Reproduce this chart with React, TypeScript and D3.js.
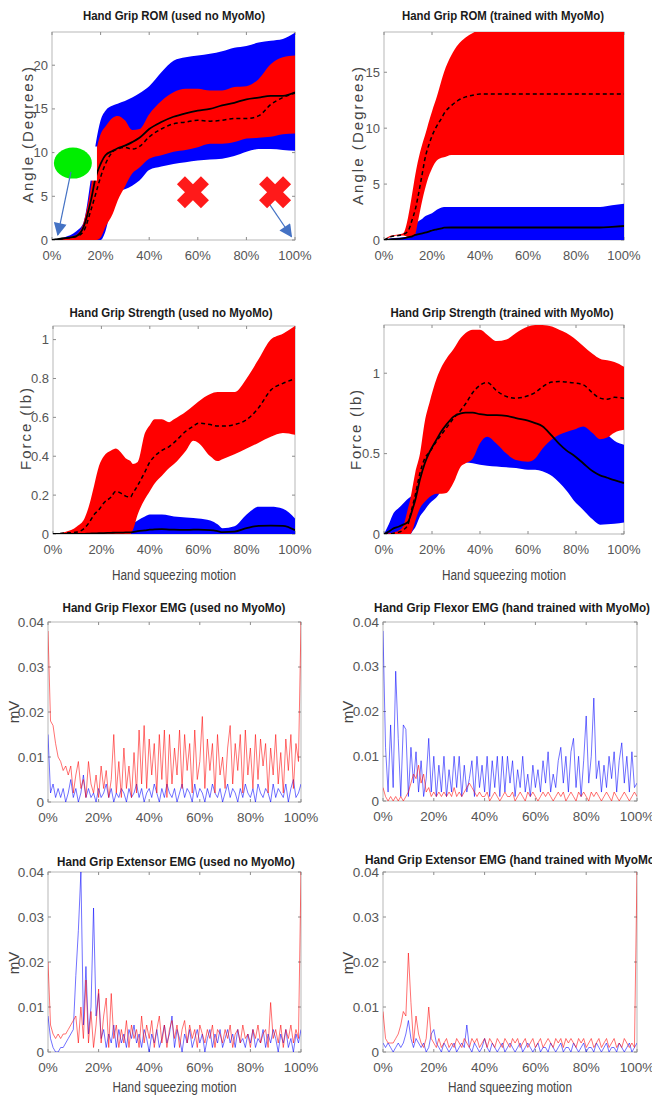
import React from 'react'
import * as d3 from 'd3'

// ---- ROM, used no MyoMo (degrees) ----
const romNoX = [0, 5, 10, 13, 16, 18, 20, 22, 25, 27, 30, 33, 36, 40, 45, 50, 55, 60, 65, 70, 75, 80, 85, 90, 95, 100]
const romNoBlueHi = [0, 0.3, 1.0, 2.0, 7.0, 11.0, 13.7, 14.8, 15.4, 15.6, 15.9, 16.3, 16.8, 17.6, 19.2, 20.5, 20.9, 21.1, 21.3, 21.6, 22.0, 22.2, 22.6, 22.8, 23.0, 23.7]
const romNoBlueLo = [0, 0, 0, 0, 0, 0, 0, 1.0, 4.5, 5.5, 5.8, 6.2, 6.8, 8.0, 8.4, 8.7, 8.9, 9.1, 9.2, 9.3, 9.6, 10.1, 10.4, 10.4, 10.3, 10.2]
const romNoRedHi = [0, 0.2, 0.6, 2.0, 6.0, 9.9, 12.1, 13.0, 14.0, 14.2, 13.7, 12.6, 12.7, 14.4, 15.9, 16.9, 17.3, 17.3, 17.1, 17.1, 17.5, 17.6, 18.4, 20.1, 20.9, 21.1]
const romNoRedLo = [0, 0, 0, 0, 0, 0, 0.3, 1.5, 3.0, 4.5, 6.1, 7.6, 8.3, 9.3, 9.7, 10.1, 10.3, 10.6, 11.0, 11.0, 11.2, 11.6, 11.7, 11.8, 12.1, 12.2]
const romNoSolid = [0, 0.2, 0.45, 1.5, 4.5, 7.2, 8.7, 9.7, 10.2, 10.5, 10.8, 11.2, 11.7, 12.7, 13.5, 14.1, 14.5, 14.8, 15.0, 15.4, 15.7, 16.1, 16.3, 16.5, 16.5, 16.9]
const romNoDashed = [0, 0.2, 0.4, 1.0, 3.4, 5.3, 7.2, 8.7, 10.1, 10.4, 10.6, 10.4, 10.7, 11.8, 12.7, 13.3, 13.5, 13.7, 13.6, 13.7, 13.9, 13.9, 14.2, 15.5, 16.3, 16.8]

// ---- ROM, trained with MyoMo ----
const romTrX = [0, 3, 6, 8, 10, 12, 13, 14, 16, 17, 19, 20, 22, 24, 25, 28, 31, 34, 37, 40, 50, 60, 70, 80, 90, 95, 100]
const romTrRedHi = [0, 0.4, 0.5, 0.6, 2.0, 4.5, 5.8, 6.9, 8.6, 9.3, 10.8, 11.5, 12.8, 14.3, 15.0, 16.5, 17.5, 18.1, 18.5, 18.9, 19.5, 19.5, 19.5, 19.5, 19.5, 19.5, 19.5]
const romTrRedLo = [0, 0.3, 0.4, 0.4, 0.3, 0.3, 0.5, 1.5, 3.6, 4.5, 5.9, 6.4, 7.1, 7.35, 7.4, 7.6, 7.6, 7.6, 7.6, 7.6, 7.6, 7.6, 7.6, 7.6, 7.6, 7.6, 7.6]
const romTrBlueHi = [0, 0.15, 0.2, 0.25, 0.3, 0.9, 1.3, 1.6, 1.9, 2.1, 2.3, 2.4, 2.7, 2.9, 2.95, 2.95, 2.95, 2.95, 2.95, 2.95, 2.95, 2.95, 2.95, 2.95, 2.95, 3.1, 3.25]
const romTrBlueLo = [0, 0, 0, 0, 0, 0, 0, 0, 0, 0, 0, 0, 0, 0, 0, 0, 0, 0, 0, 0, 0, 0, 0, 0, 0, 0, 0]
const romTrSolid = [0, 0.05, 0.1, 0.15, 0.25, 0.35, 0.45, 0.5, 0.6, 0.65, 0.78, 0.85, 0.95, 1.05, 1.1, 1.12, 1.12, 1.12, 1.12, 1.12, 1.12, 1.12, 1.12, 1.12, 1.12, 1.18, 1.25]
const romTrDashed = [0, 0.3, 0.4, 0.5, 0.8, 2.0, 2.7, 3.7, 6.0, 7.2, 8.7, 9.3, 10.2, 10.9, 11.3, 12.0, 12.5, 12.8, 12.95, 13.05, 13.05, 13.05, 13.05, 13.05, 13.05, 13.05, 13.05]

// ---- Strength, used no MyoMo (lb) ----
const strNoX = [0, 5, 10, 13, 15, 17, 19, 21, 24, 26, 28, 30, 32, 33, 35, 38, 40, 42, 45, 48, 50, 55, 58, 60, 65, 68, 70, 75, 80, 85, 90, 95, 100]
const strNoRedHi = [0, 0.01, 0.04, 0.08, 0.15, 0.25, 0.35, 0.40, 0.43, 0.44, 0.42, 0.39, 0.375, 0.36, 0.37, 0.52, 0.56, 0.59, 0.59, 0.575, 0.59, 0.63, 0.66, 0.68, 0.72, 0.73, 0.73, 0.73, 0.80, 0.90, 1.0, 1.03, 1.07]
const strNoRedLo = [0, 0, 0, 0, 0, 0, 0, 0, 0, 0, 0, 0, 0, 0.02, 0.1, 0.18, 0.22, 0.26, 0.30, 0.34, 0.36, 0.43, 0.48, 0.47, 0.40, 0.375, 0.385, 0.41, 0.44, 0.47, 0.50, 0.52, 0.51]
const strNoBlueHi = [0, 0, 0, 0, 0, 0, 0, 0, 0, 0, 0, 0, 0, 0.05, 0.07, 0.09, 0.10, 0.10, 0.10, 0.095, 0.09, 0.085, 0.082, 0.08, 0.07, 0.05, 0.03, 0.04, 0.10, 0.14, 0.14, 0.13, 0.08]
const strNoBlueLo = [0, 0, 0, 0, 0, 0, 0, 0, 0, 0, 0, 0, 0, 0, 0, 0, 0, 0, 0, 0, 0, 0, 0, 0, 0, 0, 0, 0, 0, 0, 0, 0, 0]
const strNoSolid = [0, 0, 0, 0.001, 0.002, 0.003, 0.004, 0.005, 0.006, 0.007, 0.007, 0.008, 0.008, 0.01, 0.015, 0.019, 0.022, 0.024, 0.025, 0.023, 0.022, 0.021, 0.022, 0.022, 0.02, 0.015, 0.01, 0.012, 0.03, 0.042, 0.043, 0.042, 0.02]
const strNoDashed = [0, 0.005, 0.01, 0.03, 0.06, 0.10, 0.125, 0.16, 0.19, 0.22, 0.21, 0.195, 0.19, 0.21, 0.25, 0.32, 0.37, 0.40, 0.43, 0.45, 0.47, 0.53, 0.555, 0.57, 0.563, 0.555, 0.555, 0.563, 0.588, 0.65, 0.74, 0.775, 0.798]

// ---- Strength, trained with MyoMo ----
const strTrX = [0, 2, 4, 6, 8, 10, 11, 12, 13, 15, 17, 19, 22, 24, 26, 29, 32, 34, 37, 40, 43, 47, 51, 55, 60, 63, 66, 70, 73, 76, 79, 83, 87, 90, 93, 96, 100]
const strTrRedHi = [0, 0.005, 0.01, 0.02, 0.05, 0.16, 0.22, 0.30, 0.38, 0.50, 0.70, 0.82, 0.97, 1.04, 1.09, 1.15, 1.22, 1.25, 1.27, 1.27, 1.24, 1.20, 1.21, 1.25, 1.29, 1.30, 1.30, 1.29, 1.27, 1.25, 1.22, 1.17, 1.12, 1.09, 1.08, 1.07, 1.04]
const strTrRedLo = [0, 0, 0, 0, 0, 0, 0, 0.03, 0.08, 0.16, 0.20, 0.23, 0.25, 0.25, 0.255, 0.32, 0.42, 0.44, 0.47, 0.565, 0.605, 0.56, 0.50, 0.46, 0.45, 0.47, 0.53, 0.59, 0.617, 0.635, 0.648, 0.669, 0.627, 0.59, 0.60, 0.63, 0.648]
const strTrBlueHi = [0, 0.06, 0.13, 0.16, 0.19, 0.22, 0.23, 0.25, 0.28, 0.32, 0.36, 0.40, 0.45, 0.50, 0.55, 0.60, 0.65, 0.68, 0.70, 0.72, 0.72, 0.72, 0.72, 0.72, 0.72, 0.72, 0.72, 0.72, 0.72, 0.72, 0.72, 0.72, 0.70, 0.66, 0.62, 0.58, 0.555]
const strTrBlueLo = [0, 0, 0, 0, 0, 0, 0, 0.02, 0.04, 0.11, 0.15, 0.19, 0.23, 0.27, 0.30, 0.35, 0.43, 0.445, 0.44, 0.43, 0.425, 0.42, 0.415, 0.41, 0.40, 0.40, 0.39, 0.36, 0.32, 0.27, 0.21, 0.15, 0.09, 0.058, 0.06, 0.064, 0.072]
const strTrSolid = [0, 0.015, 0.035, 0.045, 0.058, 0.075, 0.11, 0.16, 0.21, 0.34, 0.44, 0.51, 0.59, 0.64, 0.68, 0.73, 0.75, 0.755, 0.755, 0.745, 0.74, 0.74, 0.735, 0.72, 0.705, 0.69, 0.67, 0.61, 0.56, 0.52, 0.49, 0.44, 0.39, 0.365, 0.35, 0.335, 0.317]
const strTrDashed = [0, 0, 0.005, 0.01, 0.025, 0.06, 0.12, 0.18, 0.24, 0.38, 0.47, 0.51, 0.58, 0.62, 0.66, 0.72, 0.77, 0.81, 0.88, 0.925, 0.942, 0.89, 0.855, 0.845, 0.86, 0.88, 0.915, 0.945, 0.948, 0.945, 0.94, 0.928, 0.876, 0.845, 0.838, 0.85, 0.845]

// ---- EMG traces, one sample per 1% of motion, in microvolts (0.001 mV) ----
const flexNoRed = [
  38, 18, 17, 13, 10, 9, 7, 8, 6, 8,
  2, 6, 9, 3, 5, 1, 9, 4, 2, 6,
  1, 8, 3, 7, 1, 5, 15, 2, 9, 1,
  12, 3, 8, 1, 11, 2, 16, 4, 17, 3,
  14, 6, 13, 2, 15, 5, 16, 1, 15, 4,
  12, 6, 16, 3, 15, 7, 13, 2, 16, 5,
  9, 19, 3, 14, 7, 13, 2, 15, 6, 10,
  3, 12, 17, 4, 13, 7, 15, 2, 16, 6,
  12, 3, 15, 5, 14, 8, 13, 2, 12, 6,
  15, 4, 11, 2, 14, 7, 15, 3, 13, 9,
  40,
]
const flexNoBlue = [
  15, 2, 4, 1, 3, 1, 3, 0, 2, 5,
  1, 3, 0, 2, 6, 1, 3, 1, 2, 0,
  3, 1, 2, 4, 1, 3, 0, 2, 1, 3,
  2, 0, 3, 1, 2, 4, 1, 3, 0, 2,
  3, 1, 4, 2, 0, 3, 1, 4, 2, 1,
  3, 0, 2, 4, 1, 3, 2, 0, 4, 1,
  3, 2, 0, 3, 1, 4, 2, 1, 3, 0,
  2, 4, 1, 3, 2, 0, 3, 1, 4, 2,
  1, 3, 0, 4, 2, 1, 3, 2, 0, 4,
  1, 3, 2, 1, 4, 0, 3, 5, 1, 2,
  4,
]
const flexTrBlue = [
  38, 12, 2, 17, 3, 29, 14, 1, 17, 16,
  1, 12, 4, 11, 2, 9, 1, 5, 14, 2,
  10, 1, 8, 2, 10, 1, 7, 2, 10, 3,
  10, 1, 8, 2, 5, 9, 1, 10, 3, 8,
  2, 10, 1, 9, 3, 10, 1, 10, 2, 10,
  4, 9, 1, 7, 3, 10, 2, 6, 1, 8,
  3, 7, 2, 9, 4, 11, 2, 6, 3, 9,
  12, 4, 10, 2, 11, 14, 3, 10, 1, 9,
  19, 4, 10, 23, 5, 9, 2, 8, 3, 10,
  5, 11, 2, 9, 13, 4, 10, 2, 11, 3,
  4,
]
const flexTrRed = [
  3, 1, 0, 1, 0, 1, 0, 1, 0, 1,
  2, 4, 6, 5, 8, 4, 6, 2, 3, 1,
  2, 1, 2, 1, 2, 1, 2, 1, 3, 1,
  2, 1, 2, 3, 4, 3, 2, 1, 2, 1,
  1, 2, 0, 1, 2, 1, 0, 1, 2, 1,
  1, 2, 0, 1, 2, 1, 0, 2, 1, 2,
  1, 0, 1, 2, 1, 2, 1, 0, 1, 2,
  1, 2, 0, 1, 2, 1, 0, 2, 1, 2,
  1, 0, 2, 1, 2, 1, 0, 1, 2, 1,
  0, 2, 1, 0, 1, 2, 1, 0, 1, 2,
  1,
]
const extNoRed = [
  20, 6, 4, 3, 4, 3, 4, 4, 5, 6,
  7, 8, 2, 10, 3, 16, 2, 9, 1, 6,
  14, 2, 8, 12, 1, 13, 3, 6, 1, 5,
  2, 7, 1, 6, 3, 5, 1, 8, 2, 6,
  3, 7, 1, 5, 8, 2, 6, 1, 5, 7,
  3, 6, 1, 5, 7, 2, 6, 3, 5, 1,
  6, 4, 2, 5, 3, 6, 1, 5, 4, 2,
  5, 3, 6, 1, 4, 5, 2, 6, 3, 4,
  1, 5, 3, 6, 2, 4, 5, 1, 11, 3,
  5, 2, 6, 1, 5, 3, 6, 2, 5, 3,
  40,
]
const extNoBlue = [
  8, 3, 1, 0, 0, 1, 1, 2, 3, 4,
  5, 17, 27, 40, 6, 19, 4, 10, 32, 8,
  13, 3, 5, 1, 4, 2, 6, 1, 5, 2,
  4, 1, 5, 3, 6, 2, 4, 1, 5, 3,
  0, 4, 2, 5, 1, 3, 6, 2, 4, 8,
  1, 5, 3, 0, 4, 2, 5, 1, 3, 5,
  2, 4, 0, 3, 5, 1, 4, 2, 5, 1,
  3, 5, 2, 4, 1, 5, 2, 3, 1, 4,
  2, 5, 1, 3, 2, 5, 1, 4, 2, 5,
  3, 0, 4, 2, 5, 1, 3, 0, 4, 2,
  5,
]
const extTrRed = [
  9, 3, 2, 2, 2, 3, 4, 6, 9, 8,
  22, 11, 2, 8, 4, 2, 1, 3, 10, 3,
  2, 1, 3, 1, 2, 3, 1, 2, 1, 3,
  2, 1, 3, 2, 1, 3, 2, 3, 1, 2,
  3, 1, 3, 2, 1, 3, 2, 1, 3, 2,
  1, 3, 2, 3, 1, 2, 3, 1, 2, 3,
  1, 2, 3, 1, 2, 3, 2, 1, 3, 2,
  3, 1, 3, 2, 3, 2, 1, 3, 2, 3,
  1, 2, 3, 1, 2, 3, 1, 2, 3, 1,
  2, 3, 1, 2, 1, 3, 2, 1, 2, 1,
  40,
]
const extTrBlue = [
  2, 1, 2, 1, 0, 1, 2, 1, 2, 4,
  7, 3, 1, 3, 2, 1, 2, 0, 1, 4,
  5, 2, 1, 0, 2, 1, 0, 1, 2, 0,
  1, 2, 1, 6, 1, 0, 2, 1, 0, 1,
  3, 1, 0, 2, 1, 0, 1, 2, 0, 1,
  2, 1, 0, 1, 2, 0, 1, 2, 1, 0,
  1, 2, 0, 1, 1, 0, 2, 1, 0, 1,
  2, 0, 1, 1, 0, 2, 1, 0, 1, 2,
  0, 1, 1, 0, 2, 1, 0, 1, 2, 0,
  1, 1, 0, 2, 1, 0, 1, 2, 0, 1,
  2,
]

const pctTicks = [0, 20, 40, 60, 80, 100]
const FONT = "'Liberation Sans Narrow', 'Arial Narrow', 'Liberation Sans', Arial, sans-serif"
const RED = '#ff0000'
const BLUE = '#0000ff'

type Band = { lo: number[]; hi: number[]; color: string }
type Trace = { values: number[]; color: string }

interface PanelSpec {
  id: string
  left: number
  top: number
  width: number
  height: number
  yMax: number
  yTicks: number[]
  yFmt: (v: number) => string
  tickSize: number
  title: string
  titleX: number
  titleY: number
  titleLen: number
  ylabel: string
  ylabelX: number
  ylabelY: number
  ylabelLen?: number
  xlabelY?: number
  xs?: number[]
  bands?: Band[]
  solid?: number[]
  dashed?: number[]
  traces?: Trace[]
  extra?: (x: d3.ScaleLinear<number, number>, y: d3.ScaleLinear<number, number>) => React.ReactNode
}

function Panel({ p }: { p: PanelSpec }) {
  const right = p.left + p.width
  const bottom = p.top + p.height
  const x = d3.scaleLinear().domain([0, 100]).range([p.left, right])
  const y = d3.scaleLinear().domain([0, p.yMax]).range([bottom, p.top])
  const xs = p.xs || []
  const clipId = `clip-${p.id}`

  const area = (b: Band) =>
    d3.area<number>()
      .x((_, i) => x(xs[i]))
      .y0((_, i) => y(b.lo[i]))
      .y1(d => y(d))
      .curve(d3.curveMonotoneX)(b.hi) || ''
  const meanLine = d3.line<number>()
    .x((_, i) => x(xs[i]))
    .y(d => y(d))
    .curve(d3.curveMonotoneX)
  const traceLine = d3.line<number>()
    .x((_, i) => x(i))
    .y(d => y(d))

  const tickColor = '#8c8c8c'
  return (
    <g>
      <defs>
        <clipPath id={clipId}>
          <rect x={p.left} y={p.top} width={p.width} height={p.height} />
        </clipPath>
      </defs>
      {/* axes box with inward ticks (drawn below the data) */}
      <rect x={p.left} y={p.top} width={p.width} height={p.height} fill="white" stroke="#a6a6a6" strokeWidth={0.8} />
      {pctTicks.map(t => (
        <g key={'xt' + t}>
          <line x1={x(t)} x2={x(t)} y1={bottom} y2={bottom - 3} stroke={tickColor} />
          <line x1={x(t)} x2={x(t)} y1={p.top} y2={p.top + 3} stroke={tickColor} />
        </g>
      ))}
      {p.yTicks.map(t => (
        <g key={'yt' + t}>
          <line x1={p.left} x2={p.left + 3} y1={y(t)} y2={y(t)} stroke={tickColor} />
          <line x1={right} x2={right - 3} y1={y(t)} y2={y(t)} stroke={tickColor} />
        </g>
      ))}

      <g clipPath={`url(#${clipId})`}>
        {(p.bands || []).map((b, i) => (
          <path key={'b' + i} d={area(b)} fill={b.color} />
        ))}
        {p.solid && <path d={meanLine(p.solid) || ''} fill="none" stroke="#000" strokeWidth={1.8} />}
        {p.dashed && (
          <path d={meanLine(p.dashed) || ''} fill="none" stroke="#000" strokeWidth={1.5} strokeDasharray="4,3" />
        )}
        {(p.traces || []).map((t, i) => (
          <path key={'t' + i} d={traceLine(t.values) || ''} fill="none" stroke={t.color} strokeOpacity={0.62} strokeWidth={0.9} />
        ))}
      </g>

      {/* tick labels */}
      {pctTicks.map(t => (
        <text key={'xl' + t} x={x(t)} y={bottom + 20} textAnchor="middle" fontSize={p.tickSize} fill="#555" fontFamily={FONT}>
          {t}%
        </text>
      ))}
      {p.yTicks.map(t => (
        <text key={'yl' + t} x={p.left - 4} y={y(t)} dy="0.35em" textAnchor="end" fontSize={p.tickSize} fill="#555" fontFamily={FONT}>
          {p.yFmt(t)}
        </text>
      ))}

      <text x={p.titleX} y={p.titleY} textAnchor="middle" fontSize={13.5} fontWeight="bold" fill="#1a1a1a"
        fontFamily={FONT} textLength={p.titleLen} lengthAdjust="spacingAndGlyphs">
        {p.title}
      </text>
      <text transform={`translate(${p.ylabelX},${p.ylabelY}) rotate(-90)`} textAnchor="middle" fontSize={15}
        fill="#444" fontFamily={FONT} textLength={p.ylabelLen} lengthAdjust={p.ylabelLen ? 'spacing' : undefined}>
        {p.ylabel}
      </text>
      {p.xlabelY !== undefined && (
        <text x={(p.left + right) / 2} y={p.xlabelY} textAnchor="middle" fontSize={14} fill="#444" fontFamily={FONT}
          textLength={124} lengthAdjust="spacingAndGlyphs">
          Hand squeezing motion
        </text>
      )}
      {p.extra && p.extra(x, y)}
    </g>
  )
}

// annotation marks placed in data units of the first panel
const crossSpots = [[58, 5.45], [91.8, 5.45]]

const annotateRom = (x: d3.ScaleLinear<number, number>, y: d3.ScaleLinear<number, number>) => {
  const cross = d3.symbol(d3.symbolCross, 640)() || ''
  const arrows = [
    [[7.8, 7.8], [2.4, 0.6]],
    [[89, 4.3], [98.5, 0.4]],
  ]
  return (
    <g>
      <defs>
        <marker id="arrowHead" viewBox="0 0 10 10" refX={9} refY={5} markerUnits="userSpaceOnUse"
          markerWidth={15} markerHeight={13} orient="auto">
          <path d="M0,0 L10,5 L0,10 z" fill="#4472c4" />
        </marker>
      </defs>
      <rect x={x(1)} y={y(10.7)} width={x(18.5) - x(1)} height={y(6.8) - y(10.7)} fill="white" />
      <ellipse cx={x(8.6)} cy={y(8.8)} rx={19} ry={15.5} fill="#00ee00" />
      {arrows.map((a, i) => (
        <line key={'ar' + i} x1={x(a[0][0])} y1={y(a[0][1])} x2={x(a[1][0])} y2={y(a[1][1])}
          stroke="#4472c4" strokeWidth={1.2} markerEnd="url(#arrowHead)" />
      ))}
      {crossSpots.map((c, i) => (
        <path key={'cx' + i} d={cross} transform={`translate(${x(c[0])},${y(c[1])}) rotate(45)`} fill="#ff1a1a" />
      ))}
    </g>
  )
}

const fmtPlain = (v: number) => String(v)
const fmtMv = (v: number) => (v === 0 ? '0' : String(+(v / 1000).toFixed(2)))

const panels: PanelSpec[] = [
  {
    id: 'romNo', left: 52, top: 32, width: 243, height: 208, yMax: 23.8, yTicks: [0, 5, 10, 15, 20], yFmt: fmtPlain, tickSize: 13,
    title: 'Hand Grip ROM (used no MyoMo)', titleX: 174, titleY: 20, titleLen: 182,
    ylabel: 'Angle (Degrees)', ylabelX: 33, ylabelY: 135, ylabelLen: 136,
    xs: romNoX,
    bands: [{ lo: romNoBlueLo, hi: romNoBlueHi, color: BLUE }, { lo: romNoRedLo, hi: romNoRedHi, color: RED }],
    solid: romNoSolid, dashed: romNoDashed, extra: annotateRom,
  },
  {
    id: 'romTr', left: 384, top: 32, width: 240, height: 208, yMax: 18.6, yTicks: [0, 5, 10, 15], yFmt: fmtPlain, tickSize: 13,
    title: 'Hand Grip ROM (trained with MyoMo)', titleX: 503, titleY: 20, titleLen: 202,
    ylabel: 'Angle (Degrees)', ylabelX: 363, ylabelY: 136, ylabelLen: 138,
    xs: romTrX,
    bands: [{ lo: romTrBlueLo, hi: romTrBlueHi, color: BLUE }, { lo: romTrRedLo, hi: romTrRedHi, color: RED }],
    solid: romTrSolid, dashed: romTrDashed,
  },
  {
    id: 'strNo', left: 53, top: 326, width: 242, height: 208, yMax: 1.07, yTicks: [0, 0.2, 0.4, 0.6, 0.8, 1], yFmt: fmtPlain, tickSize: 13,
    title: 'Hand Grip Strength (used no MyoMo)', titleX: 171, titleY: 317, titleLen: 203,
    ylabel: 'Force (lb)', ylabelX: 31, ylabelY: 429, ylabelLen: 82, xlabelY: 580,
    xs: strNoX,
    bands: [{ lo: strNoBlueLo, hi: strNoBlueHi, color: BLUE }, { lo: strNoRedLo, hi: strNoRedHi, color: RED }],
    solid: strNoSolid, dashed: strNoDashed,
  },
  {
    id: 'strTr', left: 384, top: 325, width: 240, height: 209, yMax: 1.3, yTicks: [0, 0.5, 1], yFmt: fmtPlain, tickSize: 13,
    title: 'Hand Grip Strength (trained with MyoMo)', titleX: 502, titleY: 317, titleLen: 223,
    ylabel: 'Force (lb)', ylabelX: 361, ylabelY: 430, ylabelLen: 80, xlabelY: 580,
    xs: strTrX,
    bands: [{ lo: strTrBlueLo, hi: strTrBlueHi, color: BLUE }, { lo: strTrRedLo, hi: strTrRedHi, color: RED }],
    solid: strTrSolid, dashed: strTrDashed,
  },
  {
    id: 'flexNo', left: 48, top: 622, width: 253, height: 180, yMax: 40, yTicks: [0, 10, 20, 30, 40], yFmt: fmtMv, tickSize: 13.5,
    title: 'Hand Grip Flexor EMG (used no MyoMo)', titleX: 174, titleY: 612, titleLen: 223,
    ylabel: 'mV', ylabelX: 19, ylabelY: 712,
    traces: [{ values: flexNoBlue, color: BLUE }, { values: flexNoRed, color: RED }],
  },
  {
    id: 'flexTr', left: 383, top: 622, width: 254, height: 179, yMax: 40, yTicks: [0, 10, 20, 30, 40], yFmt: fmtMv, tickSize: 13.5,
    title: 'Hand Grip Flexor EMG (hand trained with MyoMo)', titleX: 512, titleY: 612, titleLen: 276,
    ylabel: 'mV', ylabelX: 353, ylabelY: 712,
    traces: [{ values: flexTrBlue, color: BLUE }, { values: flexTrRed, color: RED }],
  },
  {
    id: 'extNo', left: 48, top: 872, width: 253, height: 180, yMax: 40, yTicks: [0, 10, 20, 30, 40], yFmt: fmtMv, tickSize: 13.5,
    title: 'Hand Grip Extensor EMG (used no MyoMo)', titleX: 176, titleY: 866, titleLen: 238,
    ylabel: 'mV', ylabelX: 19, ylabelY: 963, xlabelY: 1092,
    traces: [{ values: extNoBlue, color: BLUE }, { values: extNoRed, color: RED }],
  },
  {
    id: 'extTr', left: 383, top: 872, width: 254, height: 180, yMax: 40, yTicks: [0, 10, 20, 30, 40], yFmt: fmtMv, tickSize: 13.5,
    title: 'Hand Grip Extensor EMG (hand trained with MyoMo)', titleX: 512, titleY: 864, titleLen: 294,
    ylabel: 'mV', ylabelX: 353, ylabelY: 963, xlabelY: 1092,
    traces: [{ values: extTrBlue, color: BLUE }, { values: extTrRed, color: RED }],
  },
]

export default function App() {
  return (
    <svg width={652} height={1096} style={{ position: 'absolute', left: 0, top: 0, background: 'white' }}>
      <rect width={652} height={1096} fill="white" />
      {panels.map(p => (
        <Panel key={p.id} p={p} />
      ))}
    </svg>
  )
}
